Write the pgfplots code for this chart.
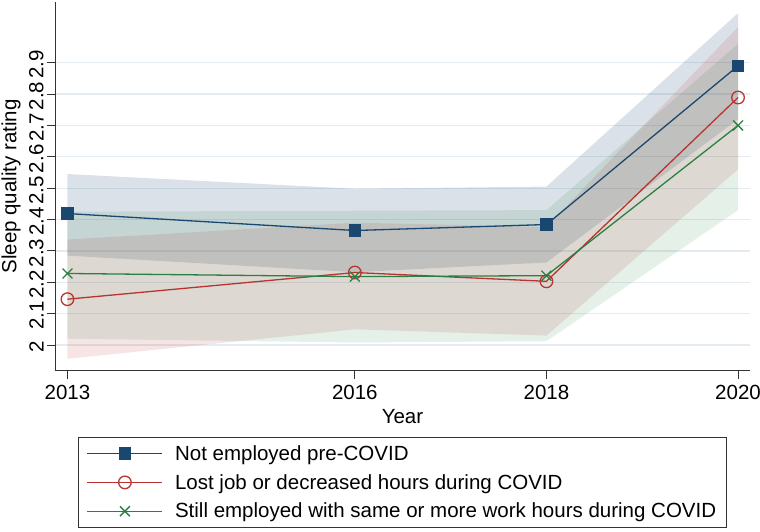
\documentclass[border=0pt]{standalone}
\usepackage{fontspec}
\setmainfont{Liberation Sans}
\usepackage{pgfplots}
\pgfplotsset{compat=1.18}
\definecolor{cnavy}{RGB}{26,71,111}
\definecolor{cred}{RGB}{185,52,48}
\definecolor{cgreen}{RGB}{42,128,68}
\definecolor{cgrid}{RGB}{228,236,241}
\newcommand{\fs}{\fontsize{20.5}{24}\selectfont}
\begin{document}
\begin{tikzpicture}
\path[use as bounding box] (-55pt,-160.3pt) rectangle (705pt,370.7pt);
\begin{axis}[
  scale only axis,
  width=695pt, height=368.7pt,
  xmin=2012.87, xmax=2020.125,
  ymin=1.918, ymax=3.0935,
  axis lines=left,
  axis line style={-, line width=0.9pt, color=black!80},
  xtick={2013,2016,2018,2020},
  xticklabels={2013,2016,2018,2020},
  ytick={2,2.1,2.2,2.3,2.4,2.5,2.6,2.7,2.8,2.9},
  yticklabels={2,2.1,2.2,2.3,2.4,2.5,2.6,2.7,2.8,2.9},
  tick align=outside,
  major tick length=8pt,
  tick style={line width=0.9pt, color=black!80},
  ymajorgrids,
  major grid style={color=cgrid, line width=1.3pt},
  /pgf/number format/assume math mode=true,
  tick label style={font=\fs},
  xticklabel style={yshift=-3pt},
  yticklabel style={rotate=90, anchor=south, xshift=-2pt},
  xlabel={Year},
  ylabel={Sleep quality rating},
  label style={font=\fs},
  xlabel style={at={(axis description cs:0.5,-0.123)}, anchor=center},
  ylabel style={at={(axis description cs:-0.0633,0.5)}, anchor=center},
  legend style={at={(axis description cs:0.5,-0.1797)}, anchor=north,
    font=\fs, draw=black!80, line width=0.8pt, inner xsep=8pt, inner ysep=6pt,
    row sep=8.5pt},
  legend cell align=left,
  legend image code/.code={\draw[mark repeat=2,mark phase=2] plot coordinates {(0pt,0pt) (37.5pt,0pt) (75pt,0pt)}; \path (0pt,0pt) (85pt,0pt);},
]
% confidence bands
\addplot[forget plot, draw=none, fill=cnavy, fill opacity=0.16]
  coordinates {(2013,2.545) (2016,2.498) (2018,2.505) (2020,3.058)
               (2020,2.72) (2018,2.263) (2016,2.232) (2013,2.285)} -- cycle;
\addplot[forget plot, draw=none, fill=cred, fill opacity=0.13]
  coordinates {(2013,2.336) (2016,2.39) (2018,2.376) (2020,3.014)
               (2020,2.56) (2018,2.03) (2016,2.05) (2013,1.956)} -- cycle;
\addplot[forget plot, draw=none, fill=cgreen, fill opacity=0.12]
  coordinates {(2013,2.425) (2016,2.428) (2018,2.43) (2020,2.96)
               (2020,2.43) (2018,2.012) (2016,2.008) (2013,2.02)} -- cycle;
% lines
\addplot[color=cnavy, line width=1.3pt, mark=square*, mark size=5.5pt, mark options={solid}]
  coordinates {(2013,2.419) (2016,2.365) (2018,2.384) (2020,2.89)};
\addlegendentry{Not employed pre-COVID}
\addplot[color=cred, line width=1.3pt, mark=o, mark size=6.3pt, mark options={solid, line width=1.3pt}]
  coordinates {(2013,2.146) (2016,2.231) (2018,2.203) (2020,2.789)};
\addlegendentry{Lost job or decreased hours during COVID}
\addplot[color=cgreen, line width=1.3pt, mark=x, mark size=7pt, mark options={solid, line width=1.3pt}]
  coordinates {(2013,2.228) (2016,2.218) (2018,2.221) (2020,2.70)};
\addlegendentry{Still employed with same or more work hours during COVID}
\end{axis}
\end{tikzpicture}
\end{document}
